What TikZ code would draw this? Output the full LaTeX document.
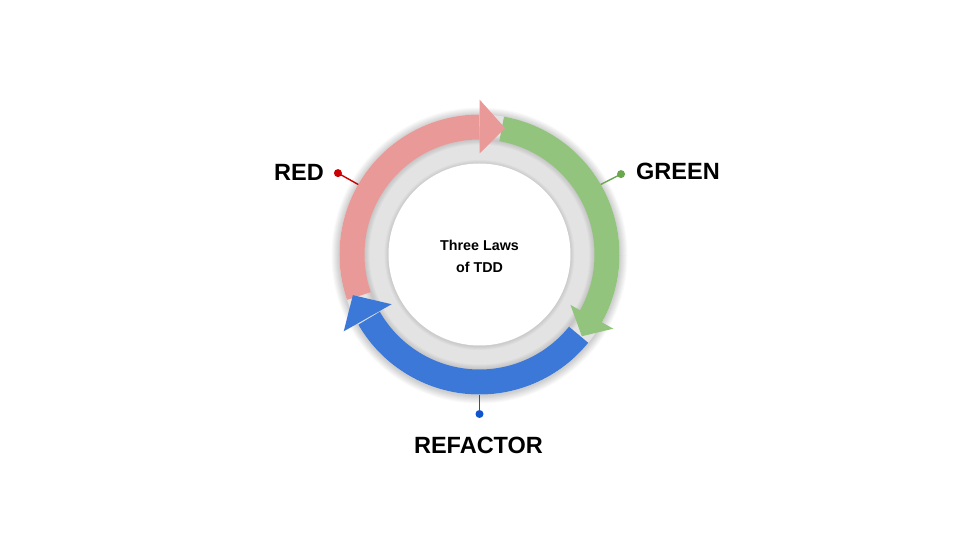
\documentclass[tikz,border=0pt]{standalone}
\usepackage{fontspec}
\setmainfont{Liberation Sans}
\definecolor{pinkc}{HTML}{EA9999}
\definecolor{greenc}{HTML}{93C47D}
\definecolor{bluec}{HTML}{3C78D8}
\definecolor{ringc}{HTML}{E3E3E3}
\definecolor{reddot}{HTML}{CC0000}
\definecolor{greendot}{HTML}{6AA84F}
\definecolor{bluedot}{HTML}{1155CC}
\tikzset{
  band/.style={line width=25pt},
  glow/.style={draw=black, draw opacity=0.022},
  dotmark/.style={circle, inner sep=0pt, minimum size=8pt},
  lead/.style={line width=1.4pt},
  biglabel/.style={font=\bfseries\fontsize{23.5}{28}\selectfont, inner sep=0pt},
  centertext/.style={font=\bfseries\fontsize{14.3}{22}\selectfont, align=center, inner sep=0pt}
}
\begin{document}
\begin{tikzpicture}
\useasboundingbox[fill=white] (-479.5pt,-285.5pt) rectangle (480.5pt,254.5pt);
% outer soft shadow
\foreach \w in {2,4,...,16} \draw[glow, line width=\w pt] (0,-1pt) circle[radius=140pt];
% base ring
\fill[ringc] (0,0) circle[radius=140pt];
% shadow of bands onto grey ring
\foreach \w in {2,4,...,10} \draw[glow, line width=\w pt] (0,0) circle[radius=115pt];
% shadow around white disc
\foreach \w in {2,4,...,8} \draw[glow, line width=\w pt] (0,-0.5pt) circle[radius=91pt];
% bodies
\draw[band, pinkc] (199:127.5pt) arc[start angle=199, end angle=90, radius=127.5pt];
\draw[band, greenc] (80:127.5pt) arc[start angle=80, end angle=-30, radius=127.5pt];
\draw[band, bluec] (-39:127.5pt) arc[start angle=-39, end angle=-150, radius=127.5pt];
% heads
\fill[pinkc] (90:101pt) -- (90:155pt) -- (78.6:129pt) -- cycle;
\fill[greenc] (-29:104pt) -- (-29:153pt) -- (-38.6:131pt) -- cycle;
\fill[bluec] (209.5:101pt) -- (209.5:156pt) -- (197.8:133pt) -- cycle;
% inner white disc
\fill[white] (0,0) circle[radius=91pt];
\node[centertext] (title) at (0,-1.5pt) {Three Laws\\of TDD};
% leads
\coordinate (redin) at (150:140pt);
\coordinate (greenin) at (30:140pt);
\coordinate (bluein) at (270:140pt);
\node[dotmark, fill=reddot] (rdot) at (150.1:163.3pt) {};
\node[dotmark, fill=greendot] (gdot) at (29.6:162.8pt) {};
\node[dotmark, fill=bluedot] (bdot) at (270:159.5pt) {};
\draw[lead, reddot] (redin) -- (rdot.center);
\draw[lead, greendot] (greenin) -- (gdot.center);
\draw[lead, bluedot] (bluein) -- (bdot.center);
% labels
\node[biglabel, anchor=east] (redlabel) at (-155.5pt,82.5pt) {RED};
\node[biglabel, anchor=west] (greenlabel) at (156.5pt,83pt) {GREEN};
\node[biglabel] (refactorlabel) at (-1pt,-190.5pt) {REFACTOR};
\end{tikzpicture}
\end{document}
